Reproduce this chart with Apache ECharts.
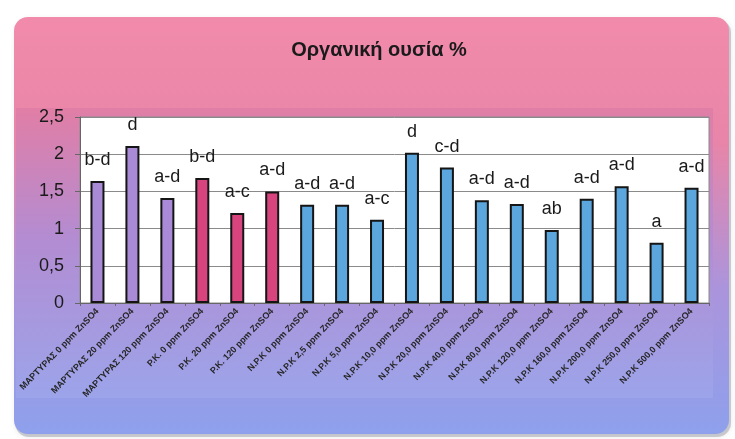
<!DOCTYPE html>
<html>
<head>
<meta charset="utf-8">
<script src="https://cdn.jsdelivr.net/npm/echarts@6/dist/echarts.min.js"></script>
<style>
  html, body { margin: 0; padding: 0; background: #ffffff; }
  #chart { width: 735px; height: 439px; }
</style>
</head>
<body>
<div id="chart"></div>
<script>
// Treatments (x axis)
const categories = [
  'ΜΑΡΤΥΡΑΣ 0 ppm ZnSO4', 'ΜΑΡΤΥΡΑΣ 20 ppm ZnSO4', 'ΜΑΡΤΥΡΑΣ 120 ppm ZnSO4',
  'P.K. 0 ppm ZnSO4', 'P.K. 20 ppm ZnSO4', 'P.K. 120 ppm ZnSO4',
  'N.P.K 0 ppm ZnSO4', 'N.P.K 2,5 ppm ZnSO4', 'N.P.K 5,0 ppm ZnSO4',
  'N.P.K 10,0 ppm ZnSO4', 'N.P.K 20,0 ppm ZnSO4', 'N.P.K 40,0 ppm ZnSO4',
  'N.P.K 80,0 ppm ZnSO4', 'N.P.K 120,0 ppm ZnSO4', 'N.P.K 160,0 ppm ZnSO4',
  'N.P.K 200,0 ppm ZnSO4', 'N.P.K 250,0 ppm ZnSO4', 'N.P.K 500,0 ppm ZnSO4'
];
// Organic matter (%)
const values = [1.64, 2.11, 1.41, 1.68, 1.21, 1.50, 1.32, 1.32, 1.12,
                2.02, 1.82, 1.38, 1.33, 0.98, 1.40, 1.57, 0.81, 1.55];
// Significance letters above each bar
const letters = ['b-d', 'd', 'a-d', 'b-d', 'a-c', 'a-d', 'a-d', 'a-d', 'a-c',
                 'd', 'c-d', 'a-d', 'a-d', 'ab', 'a-d', 'a-d', 'a', 'a-d'];
// Fertiliser group of each treatment
const groups = ['control', 'control', 'control', 'pk', 'pk', 'pk',
                'npk', 'npk', 'npk', 'npk', 'npk', 'npk', 'npk', 'npk', 'npk', 'npk', 'npk', 'npk'];
const yTicks = [0, 0.5, 1, 1.5, 2, 2.5];

const groupColors = { control: '#a98ad6', pk: '#d8447e', npk: '#5ba6dc' };

const chart = echarts.init(document.getElementById('chart'), null, { renderer: 'canvas' });

const option = {
  backgroundColor: '#ffffff',
  animation: false,
  title: {
    text: 'Οργανική ουσία %',
    left: 374, top: 35, textAlign: 'center',
    textStyle: { fontFamily: 'Liberation Sans', fontWeight: 'bold', fontSize: 20, color: '#1a1a1a' }
  },
  graphic: [
    {
      type: 'rect', z: -11, silent: true,
      shape: { x: 15, y: 19, width: 716, height: 418, r: 14 },
      style: { fill: 'rgba(120,120,140,0.35)', shadowBlur: 6, shadowColor: 'rgba(0,0,0,0.25)' }
    },
    {
      type: 'rect', z: -10, silent: true,
      shape: { x: 14, y: 17, width: 715, height: 417, r: 14 },
      style: {
        fill: new echarts.graphic.LinearGradient(0, 0, 0, 1, [
          { offset: 0, color: '#f28bab' },
          { offset: 0.3, color: '#e885a8' },
          { offset: 0.65, color: '#ab94dc' },
          { offset: 1, color: '#8ea0ec' }
        ])
      }
    },
    {
      type: 'rect', z: -9, silent: true,
      shape: { x: 16, y: 108, width: 697, height: 290 },
      style: {
        fill: new echarts.graphic.LinearGradient(0, 0, 0, 1, [
          { offset: 0, color: '#e17ea6' },
          { offset: 0.45, color: '#b38cd2' },
          { offset: 1, color: '#9ca4ea' }
        ])
      }
    }
  ],
  grid: {
    left: 80, right: 26, top: 117, bottom: 136,
    show: true, backgroundColor: '#ffffff', borderColor: '#8a8a8a', borderWidth: 1
  },
  xAxis: {
    type: 'category',
    data: categories,
    axisLine: { lineStyle: { color: '#666', width: 1 } },
    axisTick: { show: true, length: 3, lineStyle: { color: '#666' } },
    axisLabel: {
      rotate: 46, interval: 0, margin: 7,
      fontFamily: 'Liberation Sans', fontSize: 9, fontWeight: 'bold', color: '#262626'
    }
  },
  yAxis: {
    type: 'value',
    min: yTicks[0], max: yTicks[yTicks.length - 1], interval: 0.5,
    axisLine: { show: true, lineStyle: { color: '#666' } },
    axisTick: { show: true, inside: false, length: 5, lineStyle: { color: '#666' } },
    splitLine: { lineStyle: { color: '#8a8a8a', width: 1 } },
    axisLabel: {
      margin: 16,
      fontFamily: 'Liberation Sans', fontSize: 18, color: '#1a1a1a',
      formatter: v => String(v).replace('.', ',')
    }
  },
  series: [{
    type: 'bar',
    barWidth: 14,
    data: values.map((v, i) => ({
      value: v,
      itemStyle: { color: groupColors[groups[i]] }
    })),
    itemStyle: { borderColor: '#151515', borderWidth: 2 },
    label: {
      show: true, position: 'top', distance: 12,
      fontFamily: 'Liberation Sans', fontSize: 18, color: '#1a1a1a',
      formatter: p => letters[p.dataIndex]
    }
  }]
};

chart.setOption(option);
</script>
</body>
</html>
